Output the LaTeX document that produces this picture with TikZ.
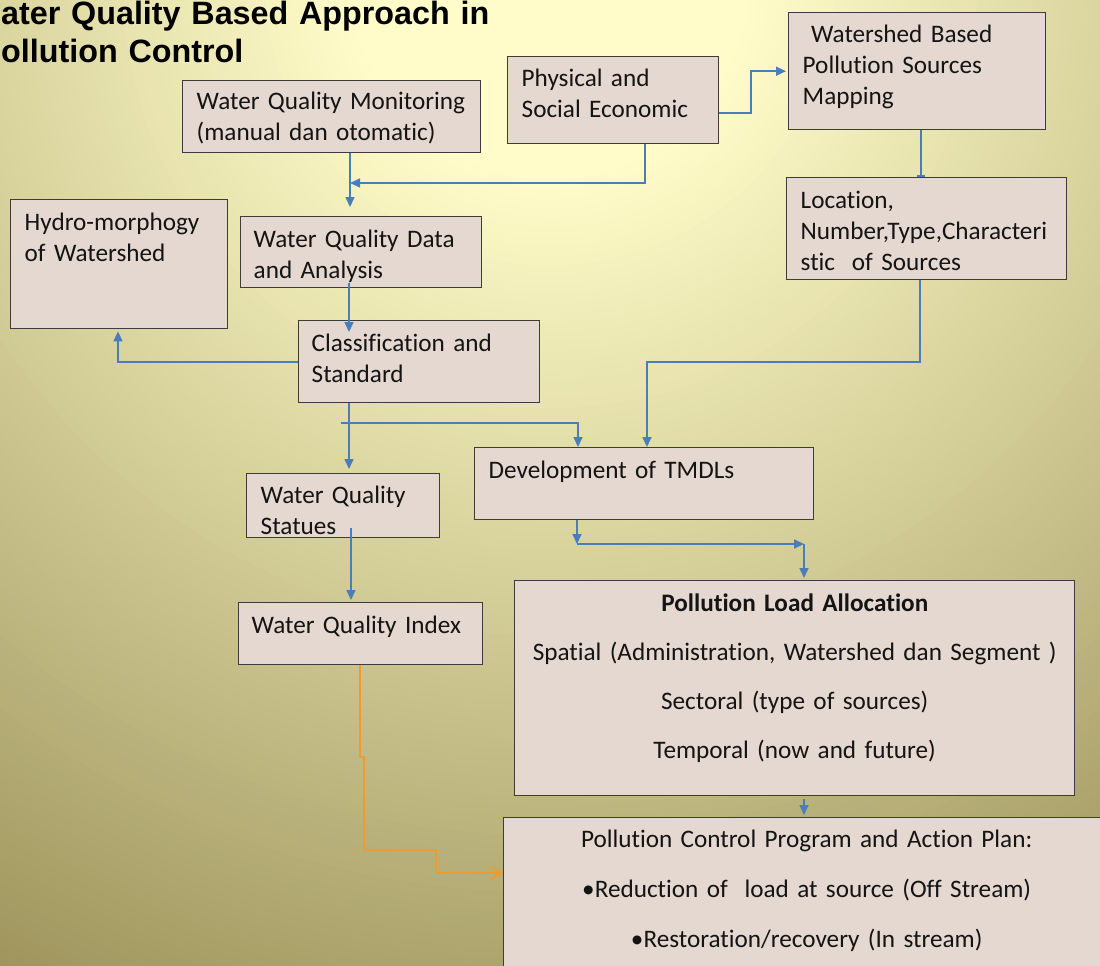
\documentclass[tikz,border=0pt]{standalone}
\usepackage{fontspec}
\usepackage{tikz}
\usetikzlibrary{arrows.meta}

\newfontfamily\carl[Ligatures=NoCommon]{Carlito}
\newfontfamily\headfont{Liberation Sans}

\definecolor{bglight}{HTML}{FFFCC9}
\definecolor{bgdark}{HTML}{9D935B}
\definecolor{boxfill}{HTML}{E4D8D0}
\definecolor{boxline}{HTML}{3C3C3C}
\definecolor{flowblue}{HTML}{4A7EBB}
\definecolor{floworange}{HTML}{F29B2B}

\tikzset{
  box/.style={draw=boxline, fill=boxfill, line width=1.4pt, anchor=north west,
    inner xsep=14pt, inner ysep=0pt, align=left, text=black!92,
    font=\carl\fontsize{25.2}{31}\selectfont},
  flow/.style={draw=flowblue, line width=1.6pt, -{Triangle[length=10pt,width=9pt]}},
  tick/.style={draw=flowblue, line width=1.6pt, -{Bar[width=8pt]}},
  oflow/.style={draw=floworange, line width=1.7pt, -{Straight Barb[length=11pt,width=13pt]}}
}

\begin{document}
\begin{tikzpicture}[x=1pt,y=-1pt]

\useasboundingbox (0,0) rectangle (1100,966);
\clip (0,0) rectangle (1100,966);

% background
\fill[bgdark] (0,0) rectangle (1100,966);
\foreach \r in {100,99,...,0}
  {\fill[bgdark!\r!bglight] (550,-20) circle[radius={200+9.5*\r}];}

\node[anchor=base west, inner sep=0pt, text width=520pt, align=left,
  font=\headfont\bfseries\fontsize{32.3}{38}\selectfont] (title) at (1,25)
  {ater Quality Based Approach in\\ollution Control};

% boxes
\node[box, text width=270pt, text height=29pt, text depth=43pt] (wqm) at (182,80)
  {\mbox{Water Quality Monitoring}\\(manual dan otomatic)};
\node[box, text width=183pt, text height=30pt, text depth=57pt] (phys) at (507,56)
  {Physical and\\Social Economic};
\node[box, text width=229pt, text height=30pt, text depth=87pt] (wsm) at (788,12)
  {\ Watershed Based\\Pollution Sources\\Mapping};
\node[box, text width=252pt, text height=31pt, text depth=71pt] (loc) at (786,177)
  {Location,\\Number,Type,Characteri\\stic\ \ of Sources};
\node[box, text width=189pt, text height=31pt, text depth=98pt] (hydro) at (10,199)
  {Hydro-morphogy\\of Watershed};
\node[box, inner xsep=13pt, text width=215pt, text height=31pt, text depth=40pt] (wqd) at (240,216)
  {Water Quality Data\\and Analysis};
\node[box, inner xsep=13pt, text width=215pt, text height=31pt, text depth=51pt] (cls) at (298,320)
  {Classification and\\Standard};
\node[box, text width=311pt, text height=31pt, text depth=41pt] (tmdl) at (474,447)
  {Development of TMDLs};
\node[box, text width=165pt, text height=30pt, text depth=34pt] (wqs) at (246,473)
  {Water Quality\\Statues};
\node[box, inner xsep=13pt, text width=218pt, text height=31pt, text depth=31pt] (wqi) at (238,602)
  {Water Quality Index};
\node[box, align=center, text width=532pt, text height=31pt, text depth=184pt] (pla) at (514,580)
  {{\bfseries Pollution Load Allocation}\\[18pt]
   Spatial (Administration, Watershed dan Segment )\\[18pt]
   Sectoral (type of sources)\\[18pt]
   Temporal (now and future)};
\node[box, align=center, text width=578pt, text height=30pt, text depth=140pt] (pcp) at (503,817)
  {Pollution Control Program and Action Plan:\\[19pt]
   •Reduction of\ \ load at source (Off Stream)\\[19pt]
   •Restoration/recovery (In stream)};

% bends
\coordinate (ja) at (350,183);
\coordinate (jb) at (645,183);
\coordinate (jc) at (751,113);
\coordinate (jd) at (921,150);
\coordinate (je) at (920,362);
\coordinate (jf) at (647,362);
\coordinate (jg) at (349,423);
\coordinate (jh) at (118,362);
\coordinate (bl) at (341,423);
\coordinate (br) at (578,423);
\coordinate (ji) at (351,560);
\coordinate (jj) at (577,544);
\coordinate (jk) at (804,544);
\coordinate (o1) at (360,757);
\coordinate (o2) at (364,757);
\coordinate (o3) at (364,850);
\coordinate (o4) at (436,850);
\coordinate (o5) at (436,873);

% connectors
\draw[flow, shorten >=9pt] (wqm.south -| ja) -- (wqd.north -| ja);
\draw[flow] (phys.south -| jb) -- (jb) -- (ja);
\draw[flow, shorten >=2pt] (phys.east |- jc) -- (jc) |- (wsm.west);
\draw[tick] (wsm.south -| jd) -- (loc.north -| jd);
\draw[flow] (loc.south -| je) -- (je) -- (jf) -- (tmdl.north -| jf);
\draw[flow, shorten <=-5pt, shorten >=-12pt] (wqd.south -| jg) -- (cls.north -| jg);
\draw[flow, shorten >=2pt] (cls.west |- jh) -- (jh) -- (hydro.south -| jh);
\draw[flow, shorten >=4pt] (cls.south -| jg) -- (wqs.north -| jg);
\draw[flow] (bl) -- (br) -- (tmdl.north -| br);
\draw[flow, shorten <=-10pt, shorten >=2pt] (wqs.south -| ji) -- (wqi.north -| ji);
\draw[flow] (tmdl.south -| jj) -- (jj);
\draw[flow] (jj) -- (jk);
\draw[flow, shorten >=2pt] (jk) -- (pla.north -| jk);
\draw[flow, shorten <=3pt, shorten >=2pt] (pla.south -| jk) -- (pcp.north -| jk);
\draw[oflow] (wqi.south -| o1) -- (o1) -- (o2) -- (o3) -- (o4) -- (o5) -- (pcp.west |- o5);

\end{tikzpicture}
\end{document}
